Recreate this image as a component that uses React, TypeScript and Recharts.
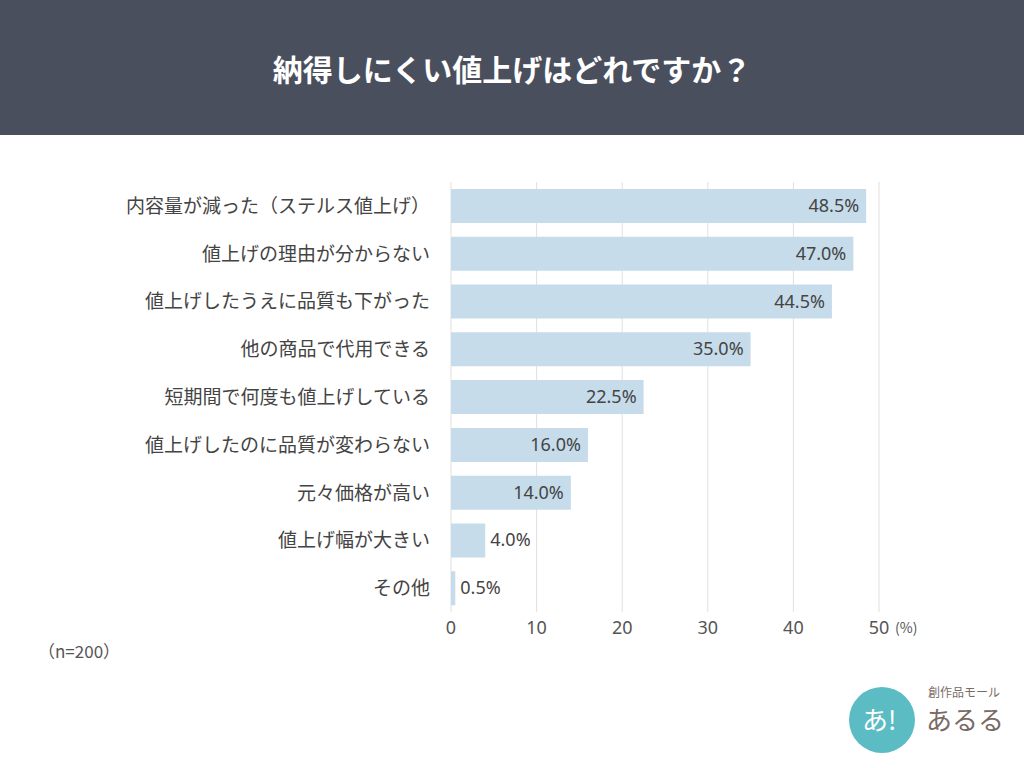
import React from "react";
import { BarChart, Bar, XAxis, YAxis, CartesianGrid, LabelList } from "recharts";

const categories = [
  "内容量が減った（ステルス値上げ）",
  "値上げの理由が分からない",
  "値上げしたうえに品質も下がった",
  "他の商品で代用できる",
  "短期間で何度も値上げしている",
  "値上げしたのに品質が変わらない",
  "元々価格が高い",
  "値上げ幅が大きい",
  "その他",
];
const values = [48.5, 47.0, 44.5, 35.0, 22.5, 16.0, 14.0, 4.0, 0.5];
const xTicks = [0, 10, 20, 30, 40, 50];

const data = categories.map((name, i) => ({ name, value: values[i] }));

const FONT = "'Noto Sans CJK JP', 'Noto Sans', sans-serif";
const NUMFONT = "'Noto Sans', 'Noto Sans CJK JP', sans-serif";

const XTick = (props: any) => {
  const { x, y, payload } = props;
  return (
    <g>
      <text x={x} y={y} dy={14} textAnchor="middle" fill="#555" fontSize={18} fontFamily={NUMFONT}>
        {payload.value}
      </text>
      {payload.value === 50 && (
        <text x={x + 16} y={y} dy={13} textAnchor="start" fill="#555" fontSize={14} fontFamily={FONT}>
          (%)
        </text>
      )}
    </g>
  );
};

const YTick = (props: any) => {
  const { x, y, payload } = props;
  return (
    <text x={x} y={y} dy={7} textAnchor="end" fill="#444" fontSize={19} fontFamily={FONT}>
      {payload.value}
    </text>
  );
};

const ValueLabel = (props: any) => {
  const { x, y, width, height, value } = props;
  const inside = value >= 10;
  const tx = inside ? x + width - 7 : x + width + 5;
  return (
    <text
      x={tx}
      y={y + height / 2}
      dy={6}
      textAnchor={inside ? "end" : "start"}
      fill="#444"
      fontSize={18}
      fontFamily={NUMFONT}
    >
      {value.toFixed(1)}%
    </text>
  );
};

export default function App() {
  return (
    <div style={{ position: "absolute", left: 0, top: 0, width: 1024, height: 768, background: "#fff", overflow: "hidden", fontFamily: FONT }}>
      <div
        style={{
          position: "absolute",
          left: 0,
          top: 0,
          width: 1024,
          height: 135,
          background: "#4a4f5e",
          color: "#fff",
          fontSize: 30,
          fontWeight: 700,
          display: "flex",
          alignItems: "center",
          justifyContent: "center",
          fontFamily: FONT,
        }}
      >
        納得しにくい値上げはどれですか？
      </div>
      <div style={{ position: "absolute", left: 0, top: 0 }}>
        <BarChart
          width={1024}
          height={768}
          data={data}
          layout="vertical"
          margin={{ top: 182, right: 145, bottom: 126, left: 0 }}
          barSize={34}
        >
          <CartesianGrid horizontal={false} vertical={true} stroke="#e0e0e0" />
          <XAxis
            type="number"
            domain={[0, 50]}
            ticks={xTicks}
            axisLine={false}
            tickLine={false}
            tickSize={0}
            tickMargin={8}
            height={30}
            tick={<XTick />}
            interval={0}
          />
          <YAxis
            type="category"
            dataKey="name"
            width={451}
            axisLine={false}
            tickLine={false}
            tickSize={0}
            tickMargin={21}
            tick={<YTick />}
            interval={0}
          />
          <Bar dataKey="value" fill="#c6dcea" isAnimationActive={false}>
            <LabelList dataKey="value" content={<ValueLabel />} />
          </Bar>
        </BarChart>
      </div>
      <div style={{ position: "absolute", left: 38, top: 638, fontSize: 17, color: "#555", fontFamily: FONT }}>
        （n=200）
      </div>
      <svg style={{ position: "absolute", left: 840, top: 670 }} width={184} height={98}>
        <circle cx={42} cy={50} r={33} fill="#5bbcc4" />
        <text x={22} y={60} fill="#fff" fontSize={26} fontFamily={FONT}>あ!</text>
        <text x={88} y={27} fill="#7a6a66" fontSize={12} fontFamily={FONT}>創作品モール</text>
        <text x={86} y={60} fill="#7a6a66" fontSize={26} fontFamily={FONT}>あるる</text>
      </svg>
    </div>
  );
}
